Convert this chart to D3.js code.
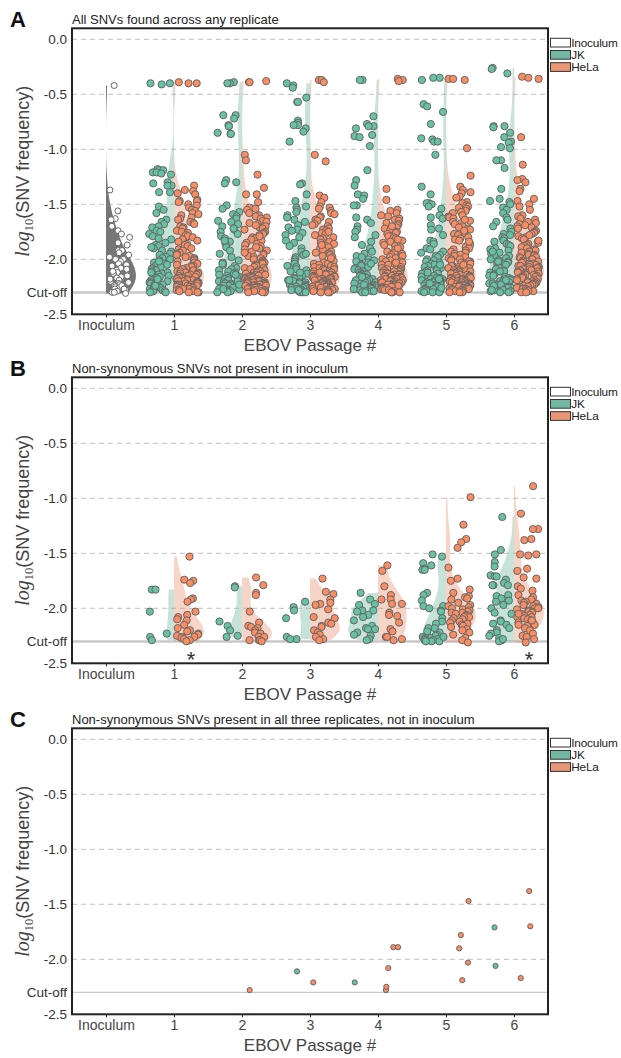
<!DOCTYPE html>
<html>
<head>
<meta charset="utf-8">
<script src="https://cdn.jsdelivr.net/npm/d3@7"></script>
<style>
  body { margin: 0; background: #fff; }
  svg { display: block; }
  text { font-family: "Liberation Sans", Arial, sans-serif; }
</style>
</head>
<body>
<div id="container"></div>
<script>
/* CONSTANTS AND GLOBALS */
const width = 621, height = 1058;
const plot = { left: 72, right: 548, h: 286 };
const panelTops = [28.3, 377.3, 728.3];
const colors = { JK: '#66c2a5', HeLa: '#fc8d62', JKv: '#72b7a1', HeLav: '#e99675', Inoc: '#777777' };

/* DATA */
const panelLetters = ["A", "B", "C"];
const panelTitles = [
  "All SNVs found across any replicate",
  "Non-synonymous SNVs not present in inoculum",
  "Non-synonymous SNVs present in all three replicates, not in inoculum"
];
const categories = ["Inoculum", "1", "2", "3", "4", "5", "6"];
const yTicks = [0, -0.5, -1, -1.5, -2, Math.log10(0.005), -2.5];
const yTickLabels = ["0.0", "-0.5", "-1.0", "-1.5", "-2.0", "Cut-off", "-2.5"];
const gridTicks = [0, -0.5, -1, -1.5, -2];
const cutoff = Math.log10(0.005);
const legendLabels = ["Inoculum", "JK", "HeLa"];

// Panel A: all SNVs (log10 frequency)
const inoculumA = [-0.42,-1.37,-1.56,-1.63,-1.64,-1.70,-1.74,-1.77,-1.80,-1.85,-1.87,-1.92,-1.92,-1.94,-1.96,-1.98,-2.00,-2.00,-2.02,-2.04,-2.05,-2.06,-2.08,-2.09,-2.10,-2.12,-2.13,-2.15,-2.16,-2.17,-2.19,-2.20,-2.21,-2.22,-2.23,-2.24,-2.25,-2.26,-2.27,-2.28,-2.29,-2.30,-2.30,-2.11,-2.18,-2.24,-2.27,-2.31];

const jkA = [
  [-0.40,-0.40,-0.41,-1.18,-1.19,-1.19,-1.21,-1.21,-1.22,-1.23,-1.30,-1.31,-1.33,-1.33,-1.39,-1.39,-1.52,-1.55,-1.58,-1.64,-1.66,-1.68,-1.70,-1.71,-1.74,-1.75,-1.77,-1.79,-1.81,-1.82,-1.85,-1.87,-1.88,-1.90,-1.92,-1.93,-1.95,-1.96,-1.98,-1.99,-2.00,-2.01,-2.03,-2.04,-2.05,-2.06,-2.07,-2.08,-2.09,-2.10,-2.11,-2.12,-2.13,-2.14,-2.15,-2.16,-2.16,-2.17,-2.18,-2.19,-2.19,-2.20,-2.21,-2.21,-2.22,-2.23,-2.23,-2.24,-2.25,-2.25,-2.26,-2.26,-2.27,-2.27,-2.28,-2.28,-2.29,-2.29,-2.30,-2.30,-2.02,-2.12,-2.24,-1.89,-2.18],
  [-0.39,-0.40,-0.40,-0.69,-0.69,-0.72,-0.78,-0.79,-0.79,-0.85,-0.86,-0.86,-1.28,-1.30,-1.31,-1.51,-1.54,-1.57,-1.59,-1.61,-1.63,-1.65,-1.66,-1.68,-1.70,-1.73,-1.75,-1.77,-1.79,-1.81,-1.84,-1.86,-1.89,-1.92,-1.95,-1.98,-2.01,-2.03,-2.05,-2.06,-2.08,-2.09,-2.10,-2.11,-2.12,-2.13,-2.14,-2.15,-2.16,-2.17,-2.17,-2.18,-2.19,-2.20,-2.20,-2.21,-2.22,-2.22,-2.23,-2.24,-2.24,-2.25,-2.25,-2.26,-2.26,-2.27,-2.27,-2.28,-2.28,-2.29,-2.29,-2.30,-2.30,-1.72,-1.83,-2.04,-2.14,-2.23,-2.27],
  [-0.40,-0.42,-0.44,-0.53,-0.57,-0.57,-0.74,-0.76,-0.78,-0.78,-0.81,-0.84,-0.93,-1.31,-1.32,-1.41,-1.47,-1.52,-1.53,-1.55,-1.57,-1.60,-1.62,-1.64,-1.66,-1.69,-1.71,-1.73,-1.76,-1.78,-1.80,-1.83,-1.85,-1.88,-1.90,-1.93,-1.96,-1.98,-2.00,-2.02,-2.04,-2.06,-2.07,-2.09,-2.10,-2.11,-2.13,-2.14,-2.15,-2.16,-2.17,-2.18,-2.19,-2.20,-2.21,-2.21,-2.22,-2.23,-2.23,-2.24,-2.25,-2.25,-2.26,-2.26,-2.27,-2.27,-2.28,-2.28,-2.29,-2.29,-2.30,-2.30,-2.30,-1.74,-1.95,-2.12,-2.19,-2.28],
  [-0.37,-0.37,-0.70,-0.77,-0.79,-0.79,-0.81,-0.87,-0.88,-0.89,-0.97,-1.19,-1.28,-1.33,-1.41,-1.42,-1.45,-1.51,-1.51,-1.62,-1.64,-1.67,-1.70,-1.73,-1.75,-1.78,-1.80,-1.84,-1.87,-1.90,-1.93,-1.95,-1.97,-1.98,-2.00,-2.01,-2.02,-2.03,-2.05,-2.06,-2.07,-2.08,-2.09,-2.10,-2.11,-2.12,-2.13,-2.14,-2.14,-2.15,-2.16,-2.17,-2.17,-2.18,-2.19,-2.19,-2.20,-2.21,-2.21,-2.22,-2.22,-2.23,-2.24,-2.24,-2.25,-2.25,-2.26,-2.26,-2.27,-2.27,-2.28,-2.28,-2.29,-2.29,-2.30,-2.30,-2.04,-2.16,-2.23,-2.27],
  [-0.35,-0.35,-0.37,-0.59,-0.61,-0.66,-0.77,-0.90,-0.91,-0.93,-0.93,-1.05,-1.34,-1.41,-1.49,-1.49,-1.50,-1.52,-1.54,-1.60,-1.62,-1.63,-1.69,-1.72,-1.73,-1.78,-1.83,-1.84,-1.86,-1.90,-1.91,-1.93,-1.94,-1.96,-1.97,-1.98,-2.00,-2.01,-2.02,-2.03,-2.04,-2.05,-2.06,-2.07,-2.08,-2.09,-2.10,-2.10,-2.11,-2.12,-2.13,-2.13,-2.14,-2.15,-2.15,-2.16,-2.17,-2.17,-2.18,-2.18,-2.19,-2.19,-2.20,-2.20,-2.21,-2.21,-2.22,-2.22,-2.23,-2.23,-2.24,-2.24,-2.25,-2.25,-2.26,-2.26,-2.27,-2.27,-2.28,-2.28,-2.29,-2.29,-2.30,-2.30,-2.30,-2.05,-2.12,-2.18,-2.22,-2.26],
  [-0.26,-0.27,-0.31,-0.79,-0.80,-0.79,-0.85,-0.89,-0.93,-0.94,-0.98,-0.99,-1.10,-1.10,-1.17,-1.36,-1.45,-1.47,-1.48,-1.50,-1.53,-1.55,-1.58,-1.62,-1.64,-1.66,-1.70,-1.72,-1.75,-1.77,-1.78,-1.80,-1.81,-1.83,-1.84,-1.86,-1.87,-1.88,-1.90,-1.91,-1.92,-1.94,-1.95,-1.96,-1.97,-1.99,-2.00,-2.01,-2.02,-2.03,-2.04,-2.05,-2.06,-2.07,-2.08,-2.09,-2.10,-2.11,-2.12,-2.13,-2.14,-2.15,-2.15,-2.16,-2.17,-2.18,-2.18,-2.19,-2.20,-2.20,-2.21,-2.22,-2.22,-2.23,-2.23,-2.24,-2.25,-2.25,-2.26,-2.26,-2.27,-2.27,-2.28,-2.28,-2.29,-2.29,-2.30,-2.30,-1.93,-2.02,-2.11,-2.19,-2.24,-2.28]
];

const helaA = [
  [-0.39,-0.40,-0.40,-1.33,-1.37,-1.38,-1.40,-1.41,-1.46,-1.47,-1.47,-1.48,-1.50,-1.51,-1.53,-1.55,-1.56,-1.58,-1.59,-1.60,-1.62,-1.63,-1.64,-1.66,-1.67,-1.68,-1.70,-1.71,-1.72,-1.74,-1.75,-1.76,-1.78,-1.79,-1.80,-1.82,-1.83,-1.84,-1.86,-1.87,-1.88,-1.90,-1.91,-1.92,-1.94,-1.95,-1.96,-1.97,-1.98,-1.99,-2.00,-2.01,-2.02,-2.03,-2.04,-2.05,-2.06,-2.06,-2.07,-2.08,-2.09,-2.09,-2.10,-2.11,-2.11,-2.12,-2.12,-2.13,-2.13,-2.14,-2.14,-2.15,-2.15,-2.16,-2.16,-2.17,-2.17,-2.17,-2.18,-2.18,-2.18,-2.19,-2.19,-2.19,-2.20,-2.20,-2.20,-2.21,-2.21,-2.21,-2.22,-2.22,-2.22,-2.23,-2.23,-2.23,-2.24,-2.24,-2.24,-2.25,-2.25,-2.25,-2.26,-2.26,-2.26,-2.27,-2.27,-2.28,-2.28,-2.28,-2.29,-2.29,-2.30,-2.30,-2.30],
  [-0.38,-0.39,-0.39,-1.05,-1.10,-1.23,-1.35,-1.41,-1.41,-1.48,-1.53,-1.54,-1.55,-1.58,-1.60,-1.61,-1.62,-1.63,-1.65,-1.66,-1.67,-1.68,-1.70,-1.71,-1.72,-1.73,-1.75,-1.76,-1.77,-1.78,-1.80,-1.81,-1.82,-1.83,-1.85,-1.86,-1.87,-1.88,-1.90,-1.91,-1.92,-1.93,-1.95,-1.96,-1.97,-1.98,-1.99,-2.00,-2.01,-2.02,-2.03,-2.03,-2.04,-2.05,-2.06,-2.06,-2.07,-2.08,-2.08,-2.09,-2.10,-2.10,-2.11,-2.12,-2.12,-2.13,-2.13,-2.14,-2.14,-2.15,-2.15,-2.16,-2.16,-2.17,-2.17,-2.17,-2.18,-2.18,-2.18,-2.19,-2.19,-2.19,-2.20,-2.20,-2.20,-2.21,-2.21,-2.21,-2.22,-2.22,-2.22,-2.23,-2.23,-2.23,-2.24,-2.24,-2.24,-2.25,-2.25,-2.25,-2.26,-2.26,-2.26,-2.27,-2.27,-2.27,-2.28,-2.28,-2.28,-2.29,-2.29,-2.29,-2.30,-2.30,-2.30,-1.69,-1.79,-1.89,-1.94],
  [-0.37,-0.37,-0.39,-1.05,-1.11,-1.42,-1.44,-1.48,-1.52,-1.53,-1.54,-1.56,-1.58,-1.59,-1.61,-1.62,-1.64,-1.65,-1.66,-1.68,-1.69,-1.70,-1.72,-1.73,-1.74,-1.76,-1.77,-1.78,-1.80,-1.81,-1.82,-1.84,-1.85,-1.86,-1.88,-1.89,-1.90,-1.91,-1.93,-1.94,-1.95,-1.96,-1.97,-1.98,-2.00,-2.01,-2.02,-2.03,-2.04,-2.04,-2.05,-2.06,-2.07,-2.07,-2.08,-2.09,-2.09,-2.10,-2.11,-2.11,-2.12,-2.12,-2.13,-2.13,-2.14,-2.14,-2.15,-2.15,-2.16,-2.16,-2.16,-2.17,-2.17,-2.17,-2.18,-2.18,-2.18,-2.19,-2.19,-2.19,-2.20,-2.20,-2.20,-2.21,-2.21,-2.21,-2.22,-2.22,-2.22,-2.23,-2.23,-2.23,-2.24,-2.24,-2.24,-2.25,-2.25,-2.25,-2.26,-2.26,-2.26,-2.27,-2.27,-2.28,-2.28,-2.28,-2.29,-2.29,-2.30,-2.30,-2.30,-1.75,-1.87,-1.99],
  [-0.36,-0.37,-0.38,-1.36,-1.46,-1.55,-1.56,-1.58,-1.60,-1.61,-1.63,-1.64,-1.65,-1.67,-1.68,-1.69,-1.71,-1.72,-1.73,-1.75,-1.76,-1.77,-1.79,-1.80,-1.81,-1.83,-1.84,-1.85,-1.87,-1.88,-1.89,-1.91,-1.92,-1.93,-1.94,-1.95,-1.96,-1.97,-1.98,-1.99,-2.00,-2.01,-2.02,-2.02,-2.03,-2.04,-2.05,-2.05,-2.06,-2.07,-2.07,-2.08,-2.09,-2.09,-2.10,-2.10,-2.11,-2.11,-2.12,-2.12,-2.13,-2.13,-2.14,-2.14,-2.15,-2.15,-2.16,-2.16,-2.16,-2.17,-2.17,-2.17,-2.18,-2.18,-2.18,-2.19,-2.19,-2.19,-2.20,-2.20,-2.20,-2.21,-2.21,-2.21,-2.22,-2.22,-2.22,-2.23,-2.23,-2.23,-2.24,-2.24,-2.24,-2.25,-2.25,-2.25,-2.26,-2.26,-2.26,-2.27,-2.27,-2.27,-2.28,-2.28,-2.29,-2.29,-2.30,-2.30,-2.30,-1.70,-1.82,-1.90,-2.03],
  [-0.36,-0.36,-0.37,-0.99,-1.24,-1.34,-1.37,-1.39,-1.40,-1.43,-1.44,-1.48,-1.49,-1.51,-1.52,-1.53,-1.54,-1.56,-1.57,-1.58,-1.60,-1.61,-1.62,-1.63,-1.65,-1.66,-1.67,-1.68,-1.70,-1.71,-1.72,-1.73,-1.75,-1.76,-1.77,-1.78,-1.80,-1.81,-1.82,-1.83,-1.85,-1.86,-1.87,-1.88,-1.89,-1.90,-1.91,-1.92,-1.93,-1.94,-1.95,-1.96,-1.97,-1.98,-1.99,-2.00,-2.00,-2.01,-2.02,-2.02,-2.03,-2.04,-2.04,-2.05,-2.06,-2.06,-2.07,-2.08,-2.08,-2.09,-2.09,-2.10,-2.10,-2.11,-2.11,-2.12,-2.12,-2.13,-2.13,-2.14,-2.14,-2.15,-2.15,-2.16,-2.16,-2.17,-2.17,-2.17,-2.18,-2.18,-2.18,-2.19,-2.19,-2.19,-2.20,-2.20,-2.20,-2.21,-2.21,-2.21,-2.22,-2.22,-2.22,-2.23,-2.23,-2.23,-2.24,-2.24,-2.24,-2.25,-2.25,-2.25,-2.26,-2.26,-2.26,-2.27,-2.27,-2.27,-2.28,-2.28,-2.28,-2.29,-2.29,-2.29,-2.30,-2.30,-2.30,-1.64,-1.74,-1.84,-2.05],
  [-0.34,-0.35,-0.36,-0.89,-1.14,-1.27,-1.28,-1.30,-1.36,-1.38,-1.45,-1.47,-1.50,-1.52,-1.55,-1.60,-1.61,-1.63,-1.64,-1.66,-1.67,-1.68,-1.70,-1.71,-1.72,-1.74,-1.75,-1.76,-1.77,-1.79,-1.80,-1.81,-1.82,-1.84,-1.85,-1.86,-1.87,-1.88,-1.89,-1.90,-1.91,-1.92,-1.93,-1.94,-1.95,-1.96,-1.96,-1.97,-1.98,-1.98,-1.99,-2.00,-2.00,-2.01,-2.02,-2.02,-2.03,-2.04,-2.04,-2.05,-2.05,-2.06,-2.06,-2.07,-2.07,-2.08,-2.08,-2.09,-2.09,-2.10,-2.10,-2.11,-2.11,-2.12,-2.12,-2.13,-2.13,-2.14,-2.14,-2.15,-2.15,-2.16,-2.16,-2.17,-2.17,-2.18,-2.18,-2.19,-2.19,-2.20,-2.20,-2.21,-2.21,-2.22,-2.22,-2.23,-2.23,-2.24,-2.24,-2.25,-2.25,-2.26,-2.26,-2.27,-2.27,-2.28,-2.28,-2.29,-2.29,-2.30,-2.30,-1.69,-1.78,-1.83]
];

// Panel B: non-synonymous SNVs not in inoculum
const jkB = [
  [-1.83,-1.83,-2.03,-2.23,-2.26,-2.29],
  [-1.80,-1.81,-2.12,-2.16,-2.20,-2.25,-2.26],
  [-1.94,-1.99,-2.02,-2.09,-2.26,-2.28,-2.28],
  [-1.86,-1.92,-1.96,-1.97,-2.02,-2.02,-2.03,-2.06,-2.08,-2.11,-2.16,-2.18,-2.19,-2.19,-2.22,-2.24,-2.25,-2.28,-2.29],
  [-1.51,-1.53,-1.59,-1.61,-1.64,-1.65,-1.65,-1.86,-1.88,-1.93,-1.98,-1.98,-2.00,-2.02,-2.03,-2.09,-2.12,-2.14,-2.18,-2.18,-2.21,-2.22,-2.24,-2.25,-2.26,-2.27,-2.27,-2.28,-2.28,-2.29,-2.29,-2.30,-2.30,-2.30,-2.26],
  [-1.17,-1.47,-1.51,-1.58,-1.62,-1.70,-1.71,-1.71,-1.74,-1.77,-1.79,-1.79,-1.79,-1.88,-1.89,-1.91,-1.93,-1.94,-1.97,-2.00,-2.04,-2.05,-2.11,-2.12,-2.14,-2.15,-2.20,-2.22,-2.23,-2.25,-2.27,-2.29,-2.30,-2.28,-2.18]
];
const helaB = [
  [-1.53,-1.74,-1.75,-1.77,-1.91,-1.92,-1.94,-2.03,-2.06,-2.08,-2.10,-2.11,-2.15,-2.18,-2.20,-2.21,-2.23,-2.24,-2.25,-2.26,-2.26,-2.27,-2.28,-2.29,-2.30],
  [-1.72,-1.79,-1.86,-1.88,-2.03,-2.13,-2.16,-2.17,-2.18,-2.20,-2.22,-2.23,-2.26,-2.26,-2.29,-2.29,-2.29,-2.30],
  [-1.73,-1.85,-1.87,-1.92,-1.95,-1.96,-1.97,-2.01,-2.08,-2.09,-2.13,-2.14,-2.16,-2.17,-2.20,-2.22,-2.24,-2.26,-2.28,-2.29],
  [-1.61,-1.66,-1.80,-1.88,-1.92,-1.92,-1.96,-1.96,-2.04,-2.06,-2.07,-2.13,-2.19,-2.21,-2.26,-2.26,-2.28,-2.29],
  [-0.99,-1.24,-1.37,-1.40,-1.45,-1.63,-1.73,-1.75,-1.83,-1.86,-1.89,-1.90,-1.91,-1.92,-1.95,-1.97,-1.98,-1.99,-2.00,-2.01,-2.02,-2.03,-2.04,-2.04,-2.05,-2.06,-2.07,-2.08,-2.08,-2.09,-2.10,-2.11,-2.12,-2.13,-2.14,-2.15,-2.16,-2.17,-2.19,-2.20,-2.22,-2.24,-2.27,-2.29,-2.31],
  [-0.89,-1.14,-1.28,-1.28,-1.37,-1.38,-1.51,-1.51,-1.52,-1.64,-1.66,-1.72,-1.73,-1.80,-1.82,-1.84,-1.88,-1.90,-1.92,-1.93,-1.94,-1.95,-1.96,-1.97,-1.98,-1.99,-2.00,-2.00,-2.01,-2.02,-2.03,-2.03,-2.04,-2.05,-2.06,-2.07,-2.08,-2.08,-2.09,-2.10,-2.11,-2.12,-2.13,-2.15,-2.15,-2.16,-2.18,-2.20,-2.23,-2.25,-2.26,-2.28,-2.31,-2.11,-2.05]
];

// Panel C: non-synonymous SNVs present in all three replicates
const jkC = [[], [], [-2.11], [-2.21], [], [-1.71, -2.06]];
const helaC = [[], [-2.28], [-2.21], [-2.28,-2.25,-1.89,-1.89,-2.08], [-1.78,-1.47,-1.90,-2.03,-2.19], [-1.38,-1.70,-2.17]];

const asterisksB = [1.25, 6.22]; // the "*" marks under passages 1 and 6

/* SCALES */
const xScale = d3.scaleLinear().domain([-0.5, 6.5]).range([plot.left, plot.right]);

/* HELPERS */
function jitter(i, k) {
  const s = Math.sin((i + 1) * 12.9898 + k * 78.233) * 43758.5453;
  return s - Math.floor(s);
}
function density(vals) {
  const n = vals.length;
  const bw = (d3.deviation(vals) || 0.1) * Math.pow(n, -0.2);
  const lo = d3.min(vals), hi = d3.max(vals);
  const pts = d3.range(121).map(i => {
    const t = lo + (hi - lo) * i / 120;
    return [t, d3.sum(vals, v => Math.exp(-0.5 * ((t - v) / bw) ** 2))];
  });
  const m = d3.max(pts, d => d[1]);
  return pts.map(d => [d[0], d[1] / m]);
}

/* HTML ELEMENTS */
const svg = d3.select("#container").append("svg")
  .attr("width", width).attr("height", height);

function drawPanel(p, jk, hela, inoc, withViolins, radius) {
  const top = panelTops[p], bottom = top + plot.h;
  const yScale = d3.scaleLinear().domain([-2.5, 0.1]).range([bottom, top]);
  const g = svg.append("g");

  // grid
  g.selectAll(".grid").data(gridTicks).join("line")
    .attr("x1", plot.left).attr("x2", plot.right)
    .attr("y1", d => yScale(d)).attr("y2", d => yScale(d))
    .attr("stroke", "#cccccc").attr("stroke-width", 1.2).attr("stroke-dasharray", "5,4");
  g.append("line")
    .attr("x1", plot.left).attr("x2", plot.right)
    .attr("y1", yScale(cutoff)).attr("y2", yScale(cutoff))
    .attr("stroke", "#c8c8c8").attr("stroke-width", p === 2 ? 1.2 : 2.5);

  const halfW = 0.44;
  const area = (center, side, scale) => d3.area()
    .y(d => yScale(d[0]))
    .x0(xScale(center))
    .x1(d => xScale(center + side * d[1] * scale * halfW));

  if (withViolins) {
    if (inoc) {
      g.append("path").datum(density(inoc))
        .attr("d", area(0, 1, 1)).attr("fill", colors.Inoc);
    }
    for (let c = 0; c < 6; c++) {
      const nMax = Math.max(jk[c].length, hela[c].length);
      g.append("path").datum(density(jk[c]))
        .attr("d", area(c + 1, -1, jk[c].length / nMax))
        .attr("fill", colors.JKv).attr("fill-opacity", 0.4);
      g.append("path").datum(density(hela[c]))
        .attr("d", area(c + 1, 1, hela[c].length / nMax))
        .attr("fill", colors.HeLav).attr("fill-opacity", 0.4);
    }
  }

  // points
  if (inoc) {
    g.append("g").selectAll("circle").data(inoc).join("circle")
      .attr("cx", (d, i) => xScale(0.2 + (jitter(i, 99) - 0.5) * 0.33))
      .attr("cy", d => yScale(d))
      .attr("r", 3).attr("fill", "#fff").attr("stroke", "#666").attr("stroke-width", 1);
  }
  for (let c = 0; c < 6; c++) {
    const k = p * 20 + c;
    g.append("g").selectAll("circle").data(jk[c]).join("circle")
      .attr("cx", (d, i) => xScale(c + 1 - 0.2 + (jitter(i, k) - 0.5) * 0.33))
      .attr("cy", d => yScale(d))
      .attr("r", radius).attr("fill", colors.JK).attr("stroke", "#666").attr("stroke-width", 1);
    g.append("g").selectAll("circle").data(hela[c]).join("circle")
      .attr("cx", (d, i) => xScale(c + 1 + 0.2 + (jitter(i, k + 7) - 0.5) * 0.33))
      .attr("cy", d => yScale(d))
      .attr("r", radius).attr("fill", colors.HeLa).attr("stroke", "#666").attr("stroke-width", 1);
  }

  // box
  g.append("rect")
    .attr("x", plot.left).attr("y", top)
    .attr("width", plot.right - plot.left).attr("height", plot.h)
    .attr("fill", "none").attr("stroke", "#222").attr("stroke-width", 2);

  // axes
  const yAxis = g.append("g").attr("transform", `translate(${plot.left},0)`)
    .call(d3.axisLeft(yScale).tickValues(yTicks).tickFormat((d, i) => yTickLabels[i]).tickSize(0).tickPadding(5));
  yAxis.select(".domain").remove();
  yAxis.selectAll("text").attr("font-size", 13.5).attr("fill", "#333")
    .attr("font-family", '"Liberation Sans", Arial, sans-serif');

  const xAxis = g.append("g").attr("transform", `translate(0,${bottom})`)
    .call(d3.axisBottom(xScale).tickValues(d3.range(7)).tickFormat(i => categories[i]).tickSize(3).tickPadding(3));
  xAxis.select(".domain").remove();
  xAxis.selectAll("line").attr("stroke", "#222");
  xAxis.selectAll("text").attr("font-size", 14).attr("fill", "#444")
    .attr("font-family", '"Liberation Sans", Arial, sans-serif');

  // titles and labels
  g.append("text").attr("x", 10).attr("y", top - 1)
    .attr("font-size", 22).attr("font-weight", "bold").attr("fill", "#111").text(panelLetters[p]);
  g.append("text").attr("x", plot.left).attr("y", top - 4.5)
    .attr("font-size", 13).attr("fill", "#222").text(panelTitles[p]);
  g.append("text").attr("x", (plot.left + plot.right) / 2).attr("y", bottom + 37)
    .attr("text-anchor", "middle").attr("font-size", 17).attr("fill", "#444").text("EBOV Passage #");

  const yl = g.append("text")
    .attr("transform", `translate(29,${top + plot.h / 2}) rotate(-90)`)
    .attr("text-anchor", "middle").attr("fill", "#444");
  yl.append("tspan").attr("font-family", '"Liberation Serif", "DejaVu Serif", serif')
    .attr("font-style", "italic").attr("font-size", 20).text("log");
  yl.append("tspan").attr("font-family", '"Liberation Serif", "DejaVu Serif", serif')
    .attr("font-size", 12.5).attr("dy", 4).text("10");
  yl.append("tspan").attr("font-size", 18).attr("dy", -4).text("(SNV frequency)");

  // legend
  const legColors = ["#ffffff", colors.JKv, colors.HeLav];
  const leg = g.append("g").attr("transform", `translate(550.5,${top + 10})`);
  leg.selectAll("rect").data(legendLabels).join("rect")
    .attr("x", 0).attr("y", (d, i) => i * 12.2).attr("width", 20).attr("height", 8.7)
    .attr("fill", (d, i) => legColors[i]).attr("stroke", "#333").attr("stroke-width", 1);
  leg.selectAll("text").data(legendLabels).join("text")
    .attr("x", 20.8).attr("y", (d, i) => i * 12.2 + 8.8)
    .attr("font-size", 11.8).attr("letter-spacing", -0.2).attr("fill", "#222").text(d => d);

  return { g, yScale, bottom };
}

drawPanel(0, jkA, helaA, inoculumA, true, 3.6);
const pB = drawPanel(1, jkB, helaB, null, true, 3.6);
drawPanel(2, jkC, helaC, null, false, 2.6);

// asterisks in panel B
pB.g.selectAll(".star").data(asterisksB).join("text")
  .attr("x", d => xScale(d)).attr("y", pB.bottom + 4)
  .attr("text-anchor", "middle").attr("font-size", 22).attr("fill", "#333").text("*");
</script>
</body>
</html>
